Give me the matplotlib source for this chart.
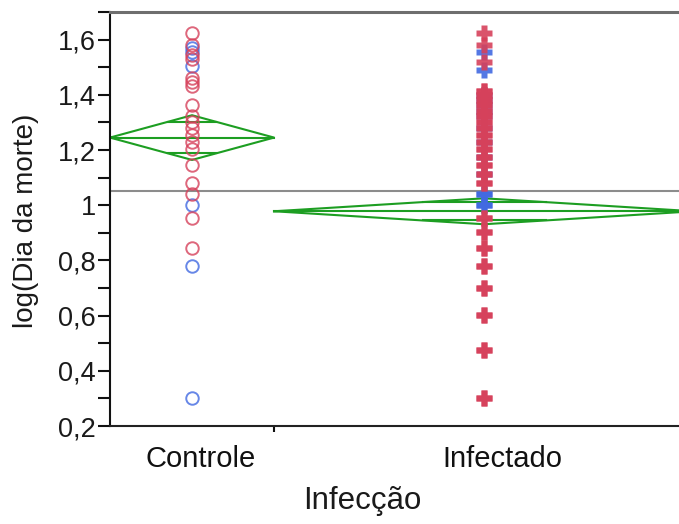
import numpy as np
import matplotlib
matplotlib.use("Agg")
import matplotlib.pyplot as plt
from matplotlib.ticker import MultipleLocator, FuncFormatter
from matplotlib.transforms import ScaledTranslation

plt.rcParams['font.family'] = ['Liberation Sans', 'DejaVu Sans']

# Day of death per animal, split by group and by colour class
groups = ["Controle", "Infectado"]
controle_red_days = [42, 38, 35, 34, 29, 28, 27, 23, 21, 20, 19, 18, 17, 16, 14, 12, 11, 9, 7]
controle_blue_days = [37, 36, 32, 10, 6, 2]
infectado_red_days = [42, 38, 33,
                      26, 26, 25, 25, 24, 24, 23, 23, 22, 22, 21, 21, 20, 20,
                      19, 19, 18, 18, 17, 17, 16, 16, 15, 15, 14, 14, 13, 13, 12, 12,
                      9, 9, 8, 8, 7, 7, 6, 6, 5, 5, 4, 4, 3, 3, 2, 2]
infectado_blue_days = [36, 31, 11, 11, 10, 10, 25, 24, 23, 22, 21, 19, 17, 15, 13]

# Group means and 95% confidence half-widths of log10(day)
group_means = [1.245, 0.978]
group_ci = [0.081, 0.047]

RED = "#d6415b"
BLUE = "#4169e1"
GREEN = "#1d9e22"

counts = [len(controle_red_days) + len(controle_blue_days),
          len(infectado_red_days) + len(infectado_blue_days)]
edges = np.concatenate([[0], np.cumsum(counts)])
centers = (edges[:-1] + edges[1:]) / 2
grand_mean = np.dot(group_means, counts) / np.sum(counts)

W, H = 679, 524
fig = plt.figure(figsize=(W / 100, H / 100), dpi=100)
ax_left, ax_right, ax_top, ax_bottom = 110, 694, 12, 426
ax = fig.add_axes([ax_left / W, 1 - ax_bottom / H,
                   (ax_right - ax_left) / W, (ax_bottom - ax_top) / H])

ax.set_xlim(edges[0], edges[-1])
ax.set_ylim(0.2, 1.7)

# grand mean reference line
ax.axhline(grand_mean, color="#8c8c8c", lw=1.5, zorder=1)

# means diamonds with overlap marks
k = np.sqrt(2) / 2
for i in range(len(groups)):
    x0, x1, c = edges[i], edges[i + 1], centers[i]
    m, ci = group_means[i], group_ci[i]
    ax.plot([x0, c, x1, c, x0], [m, m + ci, m, m - ci, m], color=GREEN, lw=1.5, zorder=2)
    ax.plot([x0, x1], [m, m], color=GREEN, lw=1.5, zorder=2)
    hw = (x1 - x0) / 2 * (1 - k)
    for s in (1, -1):
        ax.plot([c - hw, c + hw], [m + s * ci * k] * 2, color=GREEN, lw=1.5, zorder=2)

# individual points
def col(days, idx):
    d = np.log10(np.asarray(days, dtype=float))
    return np.full(d.shape, centers[idx]), d

x, y = col(controle_blue_days, 0)
ax.plot(x, y, 'o', ms=9, mfc='none', mec=BLUE, mew=1.4, alpha=0.8, zorder=3)
x, y = col(controle_red_days, 0)
ax.plot(x, y, 'o', ms=9, mfc='none', mec=RED, mew=1.4, alpha=0.8, zorder=3)
x, y = col(infectado_blue_days, 1)
ax.plot(x, y, 'P', ms=11, mfc=BLUE, mec='none', alpha=0.9, zorder=3)
x, y = col(infectado_red_days, 1)
ax.plot(x, y, 'P', ms=11, mfc=RED, mec='none', alpha=0.9, zorder=3)

# axes frame
ax.spines['left'].set_linewidth(1.5)
ax.spines['left'].set_color('#111111')
ax.spines['bottom'].set_linewidth(1.5)
ax.spines['bottom'].set_color('#222222')
ax.spines['top'].set_linewidth(2.2)
ax.spines['top'].set_color('#6e6e6e')
ax.spines['right'].set_visible(False)

# y axis
ax.yaxis.set_major_locator(MultipleLocator(0.2))
ax.yaxis.set_minor_locator(MultipleLocator(0.1))
ax.yaxis.set_major_formatter(FuncFormatter(lambda v, p: f"{v:.1f}".rstrip('0').rstrip('.').replace('.', ',')))
ax.set_yticks([0.2, 0.4, 0.6, 0.8, 1.0, 1.2, 1.4, 1.6])
ax.tick_params(axis='y', which='both', direction='out', length=9, width=1.5,
               color='#111111', labelsize=19.5, labelcolor='#1a1a1a', pad=1)

# x axis: labels at group centres, tick at group boundary
ax.set_xticks(centers)
ax.set_xticklabels(groups)
ax.set_xticks(edges[1:-1], minor=True)
ax.tick_params(axis='x', which='major', length=0, labelsize=21, labelcolor='#111111', pad=13.5)
ax.tick_params(axis='x', which='minor', direction='out', length=4.5, width=1.5, color='#111111')
for lab, dx in zip(ax.get_xticklabels(), [8.5, 18.6]):
    lab.set_transform(lab.get_transform() + ScaledTranslation(dx / 100, 0, fig.dpi_scale_trans))

fig.text(26 / W, 1 - 221 / H, "log(Dia da morte)", rotation=90, ha='center', va='center',
         fontsize=20, color='#1a1a1a')
fig.text(362 / W, 1 - 501 / H, "Infecção", ha='center', va='center', fontsize=22.5, color='#1a1a1a')

fig.savefig("out.png", dpi=100)
